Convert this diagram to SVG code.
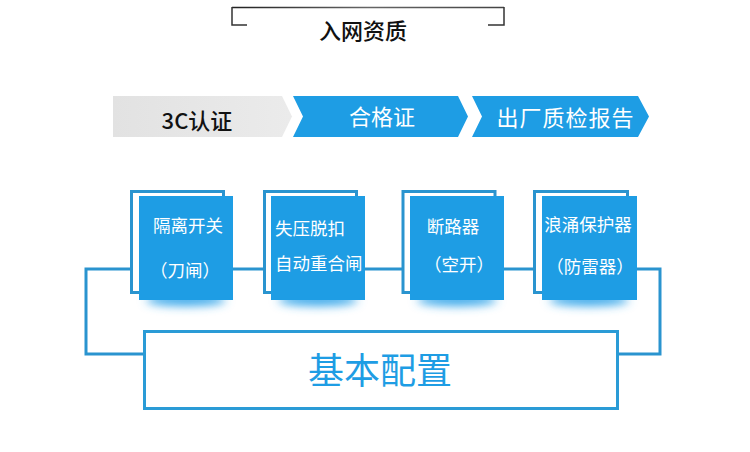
<svg xmlns="http://www.w3.org/2000/svg" width="750" height="452" viewBox="0 0 750 452">
<defs>
<style>
.cjk{font-family:"Noto Sans CJK SC","Noto Sans",sans-serif}
.bt{font-size:22px;text-anchor:middle;dominant-baseline:central}
.nt{font-size:17.5px;fill:#ffffff;dominant-baseline:central}
.back{fill:#ffffff;stroke:#2a94cf;stroke-width:3}
.front{fill:#1e9de4}
.line{fill:none;stroke:#2a94cf;stroke-width:3}
.glow{fill:#3aa8ea;filter:url(#blur)}
</style>
<filter id="blur" x="-50%" y="-100%" width="200%" height="300%"><feGaussianBlur stdDeviation="5"/></filter>
<linearGradient id="gray" x1="0" y1="0" x2="1" y2="0"><stop offset="0" stop-color="#e2e2e2"/><stop offset="1" stop-color="#ebebeb"/></linearGradient>
<linearGradient id="topline" gradientUnits="userSpaceOnUse" x1="232" y1="0" x2="504" y2="0"><stop offset="0" stop-color="#222"/><stop offset="0.5" stop-color="#666"/><stop offset="1" stop-color="#444"/></linearGradient>
</defs>
<rect width="750" height="452" fill="#ffffff"/>

<g id="title">
<line x1="232" y1="7.5" x2="504" y2="7.5" stroke="url(#topline)" stroke-width="1.5"/>
<polyline points="232,7 232,25 247,25" fill="none" stroke="#333" stroke-width="1.5"/>
<polyline points="504,7 504,25 488,25" fill="none" stroke="#333" stroke-width="1.5"/>
<text class="cjk" x="363" y="29" font-size="22" font-weight="500" fill="#111" text-anchor="middle" dominant-baseline="central">入网资质</text>
</g>

<g id="step1">
<polygon points="113,96 282,96 292,116.5 282,137 113,137" fill="url(#gray)"/>
<text class="cjk bt" x="197" y="119" fill="#111" font-weight="500">3C认证</text>
</g>
<g id="step2">
<polygon points="293,96 458,96 468,116.5 458,137 293,137 303,116.5" fill="#1e9de4"/>
<text class="cjk bt" x="382" y="115" fill="#ffffff">合格证</text>
</g>
<g id="step3">
<polygon points="472,96 638,96 649,116.5 638,137 472,137 482,116.5" fill="#1e9de4"/>
<text class="cjk bt" x="565.5" y="116" fill="#ffffff" letter-spacing="1">出厂质检报告</text>
</g>

<g id="connectors">
<polyline class="line" points="131,269 86,269 86,354 144,354"/>
<line class="line" x1="233" y1="269" x2="264" y2="269"/>
<line class="line" x1="365" y1="269" x2="403" y2="269"/>
<line class="line" x1="504" y1="269" x2="534" y2="269"/>
<polyline class="line" points="637,269 660,269 660,354 618,354"/>
</g>

<g id="node1">
<ellipse class="glow" cx="186" cy="300" rx="40" ry="6"/>
<rect class="back" x="131.5" y="191.5" width="92" height="101"/>
<rect class="front" x="139" y="196" width="94" height="104"/>
<text class="cjk nt" x="188" y="224" text-anchor="middle">隔离开关</text>
<text class="cjk nt" x="185" y="269" text-anchor="middle">（刀闸）</text>
</g>

<g id="node2">
<ellipse class="glow" cx="318" cy="300" rx="40" ry="6"/>
<rect class="back" x="264.5" y="191.5" width="92" height="101"/>
<rect class="front" x="271" y="196" width="94" height="104"/>
<text class="cjk nt" x="275" y="227">失压脱扣</text>
<text class="cjk nt" x="275" y="262">自动重合闸</text>
</g>

<g id="node3">
<ellipse class="glow" cx="457" cy="300" rx="40" ry="6"/>
<rect class="back" x="403" y="191.5" width="92" height="101"/>
<rect class="front" x="410" y="196" width="94" height="104"/>
<text class="cjk nt" x="453" y="225.5" text-anchor="middle">断路器</text>
<text class="cjk nt" x="459" y="263" text-anchor="middle">（空开）</text>
</g>

<g id="node4">
<ellipse class="glow" cx="589" cy="300" rx="40" ry="6"/>
<rect class="back" x="534.5" y="191.5" width="93" height="101"/>
<rect class="front" x="542" y="196" width="95" height="104"/>
<text class="cjk nt" x="588" y="223" text-anchor="middle">浪涌保护器</text>
<text class="cjk nt" x="590" y="265" text-anchor="middle">（防雷器）</text>
</g>

<g id="base">
<rect x="144.5" y="331.5" width="473" height="77" fill="#ffffff" stroke="#2a9bd6" stroke-width="3"/>
<text class="cjk" x="380" y="368" font-size="36" fill="#1e9de4" text-anchor="middle" dominant-baseline="central">基本配置</text>
</g>
</svg>
